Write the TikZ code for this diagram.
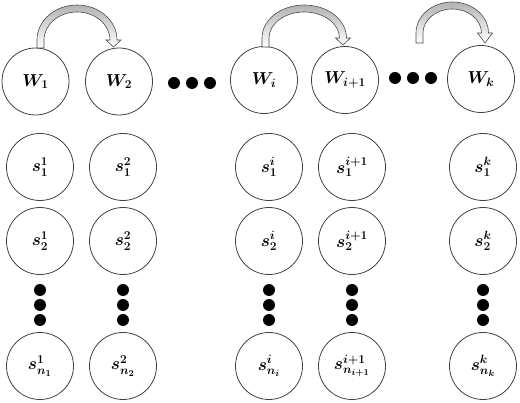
\documentclass[tikz,border=0pt]{standalone}
\usepackage{bm}
\begin{document}
\begin{tikzpicture}[x=1pt,y=-1pt,
  state/.style={circle,draw=black!75,line width=0.8pt,minimum size=67pt,inner sep=0pt,
    font=\fontsize{18}{21}\selectfont},
  bigdot/.style={circle,fill=black,minimum size=12pt,inner sep=0pt},
  band/.style={draw=black!70,line width=0.6pt,left color=black!30,middle color=white,right color=white,shading angle=0}]
\useasboundingbox (0,0) rectangle (520,403);
% W row
\node[state] (W1)  at (35.5,81.5) {$\bm{W_1}$};
\node[state] (W2)  at (119,81.5) {$\bm{W_2}$};
\node[state] (Wi)  at (264,80) {$\bm{W_i}$};
\node[state] (Wi1) at (345,80) {$\bm{W_{i+1}}$};
\node[state] (Wk)  at (481,79) {$\bm{W_k}$};
\node[bigdot] (h1) at (174,83) {};
\node[bigdot] (h2) at (192,83) {};
\node[bigdot] (h3) at (210,83) {};
\node[bigdot] (h4) at (395,78) {};
\node[bigdot] (h5) at (413,78) {};
\node[bigdot] (h6) at (431,78) {};
% s rows
\foreach \c/\x/\sup/\sub in {a/40/1/1, b/123/2/2, c/269/i/i, d/352/i+1/i+1, e/483/k/k}{
  \node[state] (s1\c) at (\x,167) {$\bm{s^{\sup}_{1}}$};
  \node[state] (s2\c) at (\x,241) {$\bm{s^{\sup}_{2}}$};
  \node[state] (sn\c) at (\x,366) {$\bm{s^{\sup}_{n_{\sub}}}$};
  \node[bigdot] (v1\c) at (\x,290) {};
  \node[bigdot] (v2\c) at (\x,305) {};
  \node[bigdot] (v3\c) at (\x,320) {};
}
% curved block arrows: #1 left outer x, #2 right outer x, #3 arc base y, #4 apex y, #5 left leg bottom y, #6 tip y
\def\blockarrow#1#2#3#4#5#6{%
  \pgfmathsetmacro\rxo{(#2-#1)/2}%
  \pgfmathsetmacro\rxi{\rxo-7}%
  \pgfmathsetmacro\ryo{#3-#4}%
  \pgfmathsetmacro\ryi{\ryo-7}%
  \pgfmathsetmacro\hl{#2-3.5-7.5}%
  \pgfmathsetmacro\hr{#2-3.5+7.5}%
  \pgfmathsetmacro\hm{#2-3.5}%
  \pgfmathsetmacro\il{#1+7}%
  \pgfmathsetmacro\ir{#2-7}%
  \path[band] (#1,#5) -- (#1,#3)
    arc[start angle=180,end angle=360,x radius=\rxo,y radius=\ryo]
    -- (\hr,#3) -- (\hm,#6) -- (\hl,#3) -- (\ir,#3)
    arc[start angle=0,end angle=-180,x radius=\rxi,y radius=\ryi]
    -- (\il,#5) -- cycle;}
\blockarrow{37}{117}{40}{5}{48}{47}
\blockarrow{262}{346.5}{38}{5}{47}{45}
\blockarrow{416}{488.5}{33}{2}{43}{43}
\end{tikzpicture}
\end{document}
